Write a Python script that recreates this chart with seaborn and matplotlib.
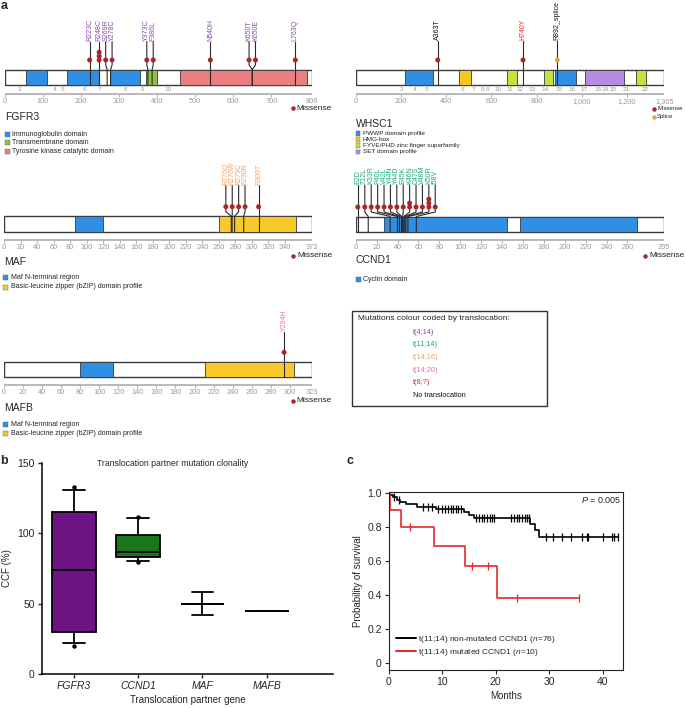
import numpy as np
import pandas as pd
import matplotlib
matplotlib.use("Agg")
import matplotlib.pyplot as plt
import seaborn as sns
from matplotlib.patches import Rectangle
from matplotlib.lines import Line2D

# ======================= DATA =======================
# translocation colour code
trans_names = ["t(4;14)", "t(11;14)", "t(14;16)", "t(14;20)", "t(8;?)", "No translocation"]
trans_colors = ["#8a4aa8", "#1ea57f", "#f3a263", "#e8729b", "#e8262b", "#111111"]
TC = dict(zip(trans_names, trans_colors))

# FGFR3
fgfr3_len = 806
fgfr3_dom_start = [56, 163, 277, 370, 460]
fgfr3_dom_end = [110, 247, 354, 399, 793]
fgfr3_dom_name = ["Immunoglobulin domain", "Immunoglobulin domain", "Immunoglobulin domain",
                  "Transmembrane domain", "Tyrosine kinase catalytic domain"]
fgfr3_mut_label = ["R223C", "R248C", "S269R", "Y278C", "Y373C", "F386L", "N540H", "K650T", "K650E", "L763Q"]
fgfr3_mut_pos = [223, 248, 269, 278, 376, 387, 540, 650, 650, 763]
fgfr3_mut_count = [1, 3, 1, 1, 1, 1, 1, 1, 1, 1]
fgfr3_mut_trans = ["t(4;14)"] * 10
fgfr3_exon_label = ["3", "4", "5", "6", "7", "8", "9", "10"]
fgfr3_exon_pos = [38, 130, 152, 210, 250, 316, 362, 428]
fgfr3_ticks = [0, 100, 200, 300, 400, 500, 600, 700, 806]

# WHSC1
whsc1_len = 1365
whsc1_dom_start = [220, 458, 668, 833, 881, 1013, 1240]
whsc1_dom_end = [340, 508, 712, 874, 974, 1187, 1284]
whsc1_dom_name = ["PWWP domain profile", "HMG-box", "FYVE/PHD zinc finger superfamily",
                  "FYVE/PHD zinc finger superfamily", "PWWP domain profile", "SET domain profile",
                  "FYVE/PHD zinc finger superfamily"]
whsc1_mut_label = ["A363T", "H740Y", "R892_splice"]
whsc1_mut_pos = [363, 740, 892]
whsc1_mut_count = [1, 1, 1]
whsc1_mut_trans = ["No translocation", "t(8;?)", "No translocation"]
whsc1_mut_type = ["Missense", "Missense", "Splice"]
whsc1_exon_label = ["3", "4", "5", "6", "7", "8", "9", "10", "11", "12", "13", "14", "15",
                    "16", "17", "18", "19", "20", "21", "22"]
whsc1_exon_pos = [203, 261, 314, 473, 520, 562, 584, 629, 682, 725, 780, 839, 898,
                  958, 1010, 1070, 1104, 1139, 1198, 1281]
whsc1_ticks = [0, 200, 400, 600, 800, 1000, 1200, 1365]

# MAF
maf_len = 373
maf_dom_start = [86, 260]
maf_dom_end = [120, 353]
maf_dom_name = ["Maf N-terminal region", "Basic-leucine zipper (bZIP) domain profile"]
maf_mut_label = ["R276Q", "R276W", "R279C", "K290R", "R309T"]
maf_mut_pos = [275, 276, 279, 290, 308]
maf_mut_count = [1, 1, 1, 1, 1]
maf_mut_trans = ["t(14;16)"] * 5
maf_ticks = list(range(0, 360, 20)) + [373]

# CCND1
ccnd1_len = 295
ccnd1_dom_start = [27, 157]
ccnd1_dom_end = [145, 269]
ccnd1_dom_name = ["Cyclin domain", "Cyclin domain"]
ccnd1_mut_label = ["E2D", "T12L", "K33R", "P40L", "V42L", "Y44N", "Y44D", "E45K", "K46N",
                   "C47S", "V48M", "K50R", "I58V"]
ccnd1_mut_pos = [2, 12, 33, 40, 42, 44, 44, 45, 46, 47, 48, 50, 58]
ccnd1_mut_count = [1, 1, 1, 1, 1, 1, 1, 1, 2, 1, 1, 3, 1]
ccnd1_mut_trans = ["t(11;14)"] * 13
ccnd1_ticks = list(range(0, 280, 20)) + [295]

# MAFB
mafb_len = 323
mafb_dom_start = [80, 211]
mafb_dom_end = [114, 304]
mafb_dom_name = ["Maf N-terminal region", "Basic-leucine zipper (bZIP) domain profile"]
mafb_mut_label = ["Y294H"]
mafb_mut_pos = [294]
mafb_mut_count = [1]
mafb_mut_trans = ["t(14;20)"]
mafb_ticks = list(range(0, 320, 20)) + [323]

# Panel b: CCF per translocation partner gene
box_genes = ["FGFR3", "CCND1", "MAF", "MAFB"]
ccf_fgfr3 = [20.0, 22.2, 28.0, 36.0, 70.0, 78.0, 110.0, 116.7, 130.8, 133.0]
ccf_ccnd1 = [79.5, 80.5, 80.5, 83.0, 84.0, 86.0, 87.0, 90.0, 95.0, 99.0, 110.5, 110.5, 111.5]
ccf_maf = [42.0, 50.0, 50.0, 50.0, 58.0]
ccf_mafb = [45.0]

# Panel c: survival (months)
km_mut_time = [0.2, 2.3, 4.0, 8.4, 14.2, 15.6, 18.6, 20.2, 24.0, 35.5]
km_mut_event = [1, 1, 0, 1, 1, 0, 0, 1, 0, 0]
km_non_death = [0.3, 0.8, 1.5, 2.2, 3.3, 5.2, 8.8, 14.0, 15.0, 16.0, 26.4, 27.3, 28.1]
km_non_censor = [1.0, 1.9, 6.5, 7.4, 8.0,
                 9.3, 10.0, 10.6, 11.1, 11.6, 12.0, 12.5, 13.0, 13.5,
                 16.4, 16.9, 17.4, 17.9, 18.4, 18.9, 19.3, 19.7,
                 22.9, 22.9, 22.9, 23.4, 23.4, 23.9, 23.9, 23.9, 24.4, 24.4,
                 24.9, 24.9, 24.9, 25.4, 25.4, 25.9, 25.9, 25.9, 26.2, 26.2,
                 29.4, 29.4, 30.8, 30.8, 32.3, 32.3, 34.1, 34.1, 36.2, 36.2, 37.0, 37.0,
                 37.3, 37.3, 40.1, 40.1, 41.7, 41.7, 42.1, 42.9]

# ======================= STYLE =======================
sns.set_theme(style="white")
plt.rcParams['font.family'] = ['Liberation Sans', 'DejaVu Sans']
plt.rcParams['mathtext.fontset'] = 'custom'
plt.rcParams['mathtext.rm'] = 'Liberation Sans'
plt.rcParams['mathtext.it'] = 'Liberation Sans:italic'

DOM_COLORS = {
    "Immunoglobulin domain": "#2f8fe3",
    "Transmembrane domain": "#8fc33f",
    "Tyrosine kinase catalytic domain": "#ea7e80",
    "PWWP domain profile": "#2f8fe3",
    "HMG-box": "#f6c51f",
    "FYVE/PHD zinc finger superfamily": "#c0e43b",
    "SET domain profile": "#b68ce3",
    "Maf N-terminal region": "#2f8fe3",
    "Basic-leucine zipper (bZIP) domain profile": "#f8c92b",
    "Cyclin domain": "#2f8fe3",
}
MISSENSE = "#a9272b"
SPLICE = "#e2a83a"
GREY = "#9a9a9a"
OUTLINE = "#3a3a3a"

W, H = 685, 708
fig = plt.figure(figsize=(W / 100, H / 100), dpi=100)


def fx(px):
    return px / W


def fy(py):
    return 1 - py / H


def spread(pos, gap):
    pos = np.asarray(pos, float)
    order = np.argsort(pos, kind="stable")
    p = pos[order]
    clusters = [[i] for i in range(len(p))]

    def place(cl):
        c = p[cl].mean()
        k = len(cl)
        return c + (np.arange(k) - (k - 1) / 2) * gap

    changed = True
    while changed:
        changed = False
        new = [clusters[0]]
        for cl in clusters[1:]:
            prev = new[-1]
            if place(cl)[0] - place(prev)[-1] < gap - 1e-9:
                new[-1] = prev + cl
                changed = True
            else:
                new.append(cl)
        clusters = new
    out = np.empty(len(p))
    for cl in clusters:
        out[cl] = place(cl)
    res = np.empty(len(p))
    res[order] = out
    return res


def tick_fmt(t):
    return f"{t:,}"


def draw_protein(length, x0, x1, ybar, dstart, dend, dname, mlabel, mpos, mcount, mtrans,
                 mtype=None, exon_lab=None, exon_pos=None, ticks=(), lab_bottom=45.0, axis_y=-8.5):
    top_local, bot_local = 78, -22
    ax = fig.add_axes([fx(x0), fy(ybar - bot_local), (x1 - x0) / W, (top_local - bot_local) / H])
    ax.set_xlim(0, length)
    ax.set_ylim(bot_local, top_local)
    ax.axis("off")
    # protein backbone and domains
    ax.barh(7.75, length, left=0, height=15.5, color="white", edgecolor=OUTLINE, linewidth=1.0, zorder=1)
    widths = np.array(dend) - np.array(dstart)
    ax.barh([7.75] * len(dstart), widths, left=dstart, height=15.5,
            color=[DOM_COLORS[n] for n in dname], edgecolor=OUTLINE, linewidth=0.6, zorder=2)
    # lollipops
    px_per_aa = (x1 - x0) / length
    xl = spread(mpos, 6.4 / px_per_aa)
    if mtype is None:
        mtype = ["Missense"] * len(mpos)
    dots_x, dots_y, dots_c = [], [], []
    for lab, p, c, tr, ty, x in zip(mlabel, mpos, mcount, mtrans, mtype, xl):
        ax.plot([x, x, x, p, p], [lab_bottom, 25, 20, 15.5, 0], color="#2a2a2a", lw=0.8, zorder=3,
                solid_joinstyle="miter")
        for k in range(c):
            dots_x.append(x)
            dots_y.append(25 + 3.9 * k)
            dots_c.append(MISSENSE if ty == "Missense" else SPLICE)
        ax.text(x, lab_bottom + 0.5, lab, rotation=90, ha="center", va="bottom", fontsize=5,
                color=TC[tr])
    df = pd.DataFrame({"x": dots_x, "y": dots_y, "c": dots_c})
    sns.scatterplot(data=df, x="x", y="y", hue="c", palette={MISSENSE: MISSENSE, SPLICE: SPLICE},
                    s=13, edgecolor="none", legend=False, ax=ax, zorder=4, clip_on=False)
    ax.set_xlabel("")
    ax.set_ylabel("")
    # coordinate axis
    ax.plot([0, length], [axis_y, axis_y], color="#b3b3b3", lw=1.3, zorder=1, solid_capstyle="butt")
    ax.vlines(ticks, axis_y - 3, axis_y, color="#b3b3b3", lw=0.8)
    for t in ticks:
        ax.text(t, axis_y - 9.0, tick_fmt(t), ha="center", va="baseline", fontsize=5.3, color=GREY)
    if exon_lab is not None:
        for lab, p in zip(exon_lab, exon_pos):
            ax.text(p, -6.0, lab, ha="center", va="baseline", fontsize=4.6, color=GREY)
    return ax


def legend_rows(x, ys, names, fs=5, sq=5):
    seen = []
    for n in names:
        if n not in seen:
            seen.append(n)
    for y, n in zip(ys, seen):
        fig.patches.append(Rectangle((fx(x), fy(y + sq / 2)), sq / W, sq / H, transform=fig.transFigure,
                                     facecolor=DOM_COLORS[n], edgecolor="#666666", lw=0.3))
        fig.text(fx(x + sq + 2.5), fy(y), n, fontsize=fs, va="center", ha="left", color="#222222")


def mut_legend(x, y, label, color, fs=6, gap=4):
    fig.add_artist(Line2D([fx(x)], [fy(y)], marker="o", ms=3.2, color=color, mec="none",
                          transform=fig.transFigure))
    fig.text(fx(x + gap), fy(y), label, fontsize=fs, va="center", ha="left", color="#222222")


# ---------------- panel a ----------------
fig.text(fx(1), fy(0), "a", fontsize=9, fontweight="bold", va="top", ha="left")

draw_protein(fgfr3_len, 4.7, 311.7, 85, fgfr3_dom_start, fgfr3_dom_end, fgfr3_dom_name,
             fgfr3_mut_label, fgfr3_mut_pos, fgfr3_mut_count, fgfr3_mut_trans,
             exon_lab=fgfr3_exon_label, exon_pos=fgfr3_exon_pos, ticks=fgfr3_ticks, lab_bottom=43.5, axis_y=-9)
fig.text(fx(5), fy(117.5), "FGFR3", fontsize=7.5, va="center")
legend_rows(4.7, [134, 142.7, 151.3], fgfr3_dom_name, fs=5)
mut_legend(292.7, 108.3, "Missense", MISSENSE, fs=6)

draw_protein(whsc1_len, 355.7, 664.3, 85, whsc1_dom_start, whsc1_dom_end, whsc1_dom_name,
             whsc1_mut_label, whsc1_mut_pos, whsc1_mut_count, whsc1_mut_trans, mtype=whsc1_mut_type,
             exon_lab=whsc1_exon_label, exon_pos=whsc1_exon_pos, ticks=whsc1_ticks, lab_bottom=44, axis_y=-9)
fig.text(fx(356), fy(124), "WHSC1", fontsize=7.5, va="center")
legend_rows(355.7, [133.3, 139.5, 145.7, 151.9], whsc1_dom_name, fs=4.6, sq=4.6)
mut_legend(654, 108.7, "Missense", MISSENSE, fs=4.3, gap=3)
mut_legend(654, 116.7, "Splice", SPLICE, fs=4.3, gap=3)

draw_protein(maf_len, 4, 312.3, 231.7, maf_dom_start, maf_dom_end, maf_dom_name,
             maf_mut_label, maf_mut_pos, maf_mut_count, maf_mut_trans, ticks=maf_ticks,
             lab_bottom=46.5, axis_y=-8.3)
fig.text(fx(4), fy(262), "MAF", fontsize=7.5, va="center")
legend_rows(3.3, [277.7, 287], maf_dom_name, fs=5)
mut_legend(293.3, 255.7, "Missense", MISSENSE, fs=6)

draw_protein(ccnd1_len, 355.7, 664, 232, ccnd1_dom_start, ccnd1_dom_end, ccnd1_dom_name,
             ccnd1_mut_label, ccnd1_mut_pos, ccnd1_mut_count, ccnd1_mut_trans, ticks=ccnd1_ticks,
             lab_bottom=47, axis_y=-8)
fig.text(fx(356), fy(260), "CCND1", fontsize=7.5, va="center")
legend_rows(355.7, [279], ccnd1_dom_name, fs=5)
mut_legend(645, 255.7, "Missense", MISSENSE, fs=6)

draw_protein(mafb_len, 4, 311.7, 377.3, mafb_dom_start, mafb_dom_end, mafb_dom_name,
             mafb_mut_label, mafb_mut_pos, mafb_mut_count, mafb_mut_trans, ticks=mafb_ticks,
             lab_bottom=45.6, axis_y=-7.7)
fig.text(fx(4), fy(408), "MAFB", fontsize=7.5, va="center")
legend_rows(3.3, [425, 433.3], mafb_dom_name, fs=5)
mut_legend(292.7, 400.7, "Missense", MISSENSE, fs=6)

# translocation colour legend box
fig.patches.append(Rectangle((fx(352), fy(406)), (547 - 352) / W, (406 - 311) / H, transform=fig.transFigure,
                             facecolor="white", edgecolor="#333333", lw=1.0))
fig.text(fx(358.3), fy(319), "Mutations colour coded by translocation:", fontsize=6, va="center")
for y, n, c in zip([332.3, 344.7, 357.3, 370.3, 382.7, 395.7], trans_names, trans_colors):
    fig.text(fx(413.3), fy(y), n, fontsize=5.3, va="center", color=c)

# ---------------- panel b ----------------
fig.text(fx(0), fy(455), "b", fontsize=9, fontweight="bold", va="top", ha="left")
ax_b = fig.add_axes([fx(41.7), fy(674.3), (333 - 41.7) / W, (674.3 - 462.7) / H])
df_b = pd.DataFrame({
    "gene": ["FGFR3"] * len(ccf_fgfr3) + ["CCND1"] * len(ccf_ccnd1) + ["MAF"] * len(ccf_maf) + ["MAFB"] * len(ccf_mafb),
    "ccf": ccf_fgfr3 + ccf_ccnd1 + ccf_maf + ccf_mafb,
})
box_pal = {"FGFR3": "#7a0096", "CCND1": "#0a850a", "MAF": "white", "MAFB": "white"}
common = dict(x="gene", y="ccf", order=box_genes, hue="gene", hue_order=box_genes, palette=box_pal,
              width=0.68, linecolor="black", linewidth=1.3, legend=False, ax=ax_b, dodge=False,
              flierprops=dict(marker="o", markersize=2.2, markerfacecolor="black",
                              markeredgecolor="black"),
              whiskerprops=dict(color="black"), capprops=dict(color="black"),
              medianprops=dict(color="black"))
sns.boxplot(data=df_b[df_b.gene.isin(["FGFR3", "CCND1"])], whis=(10, 90), **common)
sns.boxplot(data=df_b[df_b.gene.isin(["MAF", "MAFB"])], whis=(0, 100), **common)
ax_b.set_xlim(-0.5, 4.03)
ax_b.set_ylim(0, 150)
ax_b.set_yticks([0, 50, 100, 150])
ax_b.set_xticks(range(4))
ax_b.set_xticklabels(box_genes, fontstyle="italic", fontsize=7.5)
ax_b.tick_params(axis="y", labelsize=7.5, length=3, width=1, direction="out", left=True, pad=2)
ax_b.tick_params(axis="x", length=3, width=1, direction="out", bottom=True, pad=2)
ax_b.set_xlabel("Translocation partner gene", fontsize=7, labelpad=3)
ax_b.set_ylabel("CCF (%)", fontsize=7, labelpad=4)
for s in ["top", "right"]:
    ax_b.spines[s].set_visible(False)
for s in ["left", "bottom"]:
    ax_b.spines[s].set_color("black")
    ax_b.spines[s].set_linewidth(1.1)
fig.text(fx(173), fy(464), "Translocation partner mutation clonality", fontsize=6.2, ha="center", va="center")

# ---------------- panel c ----------------
fig.text(fx(346.5), fy(455), "c", fontsize=9, fontweight="bold", va="top", ha="left")
ax_c = fig.add_axes([fx(388.7), fy(670), (623.3 - 388.7) / W, (670 - 491.7) / H])


def km_curve(times, events):
    t = np.asarray(times, float)
    e = np.asarray(events, int)
    s = 1.0
    n = len(t)
    xs, ys, cx, cy = [0.0], [1.0], [], []
    for u in np.unique(t):
        m = t == u
        d = e[m].sum()
        c = m.sum() - d
        if d > 0:
            s *= 1 - d / n
            xs.append(u)
            ys.append(s)
        if c > 0:
            cx.append(u)
            cy.append(s)
        n -= m.sum()
    if xs[-1] < t.max():
        xs.append(t.max())
        ys.append(s)
    return xs, ys, cx, cy


RED = "#e42a2a"
non_t = km_non_death + km_non_censor
non_e = [1] * len(km_non_death) + [0] * len(km_non_censor)
curves = [(non_t, non_e, "black"), (km_mut_time, km_mut_event, RED)]
for times, events, col in curves:
    xs, ys, cx, cy = km_curve(times, events)
    sns.lineplot(x=xs, y=ys, drawstyle="steps-post", estimator=None, sort=False, color=col,
                 lw=1.2, ax=ax_c)
    sns.scatterplot(x=cx, y=cy, marker="|", s=38, color=col, linewidth=0.9, ax=ax_c, legend=False,
                    zorder=3)

ax_c.set_xlim(0, 43.85)
ax_c.set_ylim(-0.039, 1.006)
ax_c.set_xticks([0, 10, 20, 30, 40])
ax_c.set_yticks([0, 0.2, 0.4, 0.6, 0.8, 1.0])
ax_c.set_yticklabels(["0", "0.2", "0.4", "0.6", "0.8", "1.0"])
ax_c.tick_params(labelsize=7.5, length=3, width=0.8, direction="out", left=True, bottom=True, pad=2)
for s in ax_c.spines.values():
    s.set_color("#222222")
    s.set_linewidth(0.8)
ax_c.set_xlabel("Months", fontsize=7, labelpad=3)
ax_c.set_ylabel("Probability of survival", fontsize=7, labelpad=3)
ax_c.text(0.99, 0.955, r"$P$ = 0.005", transform=ax_c.transAxes, ha="right", va="center", fontsize=6.5)
handles = [Line2D([], [], color="black", lw=1.4), Line2D([], [], color=RED, lw=1.4)]
labels = [r"t(11;14) non-mutated CCND1 ($n$=76)", r"t(11;14) mutated CCND1 ($n$=10)"]
ax_c.legend(handles, labels, loc="lower left", bbox_to_anchor=((396 - 388.7) / 234.6, (670 - 658) / 178.3),
            frameon=False, fontsize=6, handlelength=2.4, handletextpad=0.3, labelspacing=0.2,
            borderpad=0, borderaxespad=0)

fig.savefig("out.png", dpi=100)
